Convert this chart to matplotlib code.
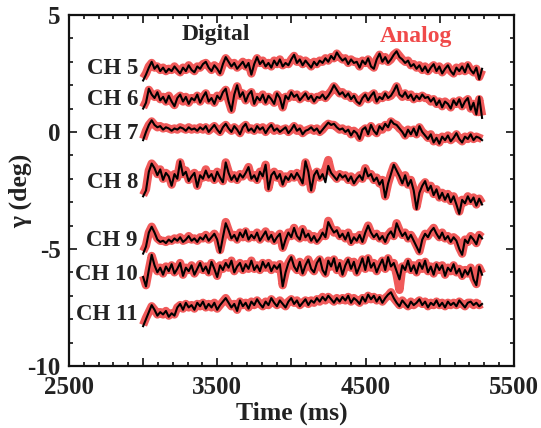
import numpy as np
import matplotlib
matplotlib.use("Agg")
import matplotlib.pyplot as plt
from matplotlib.ticker import MultipleLocator, FixedLocator, FuncFormatter

plt.rcParams['font.family'] = ['Liberation Serif', 'DejaVu Serif']
plt.rcParams['font.weight'] = 'bold'
plt.rcParams['axes.unicode_minus'] = False

t_start, t_end = 3000, 5285

channels = ["CH 5", "CH 6", "CH 7", "CH 8", "CH 9", "CH 10", "CH 11"]
label_y = [2.73, 1.4, -0.05, -2.17, -4.62, -6.1, -7.82]

dig_ch5 = [2.2, 2.45, 2.75, 3.0, 2.7, 2.85, 2.6, 2.75, 2.55, 2.7, 2.6, 2.8, 2.65, 2.5, 2.75, 2.6, 2.85, 2.65, 2.55, 2.8,
           2.7, 2.9, 3.0, 2.75, 2.6, 2.85, 2.7, 2.5, 2.9, 3.2, 3.0, 2.8, 2.95, 2.7, 2.85, 3.0, 2.75, 2.95, 2.45, 2.9,
           3.2, 2.9, 3.05, 2.8, 2.95, 2.75, 3.05, 2.85, 3.1, 2.8, 2.95, 2.85, 3.1, 3.3, 2.95, 3.1, 2.85, 3.05, 2.9, 2.75,
           3.0, 2.85, 3.05, 2.95, 3.15, 3.0, 3.25, 3.1, 3.4, 3.2, 3.05, 3.15, 2.9, 3.1, 2.95, 3.0, 2.75, 3.05, 2.9, 3.15,
           2.8, 2.7, 3.1, 3.35, 3.0, 3.2, 2.95, 3.1, 3.3, 3.45, 3.2, 3.1, 2.95, 3.05, 2.8, 2.9, 2.7, 2.85, 2.6, 2.8,
           2.55, 2.75, 2.9, 2.6, 2.8, 2.5, 2.7, 2.85, 2.6, 2.45, 2.75, 2.6, 2.8, 2.55, 2.9, 2.65, 2.5, 2.75, 2.25, 2.7]
dig_ch6 = [1.0, 1.25, 1.85, 1.6, 1.45, 1.7, 1.35, 1.5, 1.25, 1.55, 1.3, 1.1, 1.45, 1.6, 1.3, 1.5, 1.2, 1.45, 1.35, 1.6,
           1.25, 1.5, 1.7, 1.3, 1.45, 1.2, 1.55, 1.4, 1.7, 1.85, 1.3, 0.9, 1.6, 2.0, 1.5, 1.7, 1.3, 1.6, 1.75, 1.2,
           1.5, 1.35, 1.6, 1.25, 1.55, 1.4, 1.2, 1.65, 1.45, 1.0, 1.55, 1.4, 1.7, 1.5, 1.6, 1.35, 1.5, 1.65, 1.4, 1.55,
           1.3, 1.5, 1.45, 1.6, 1.4, 1.55, 1.75, 2.0, 1.8, 1.6, 1.7, 1.5, 1.65, 1.4, 1.55, 1.3, 1.2, 1.45, 1.6, 1.35,
           1.55, 1.7, 1.3, 1.5, 1.4, 1.65, 1.45, 1.55, 1.75, 2.0, 1.6, 1.5, 1.7, 1.45, 1.6, 1.35, 1.55, 1.4, 1.6, 1.45,
           1.5, 1.3, 1.45, 1.15, 1.35, 1.05, 1.3, 1.2, 1.0, 1.35, 1.15, 1.4, 1.05, 1.3, 1.45, 0.95, 1.25, 0.75, 1.5, 0.6]
dig_ch7 = [-0.35, 0.0, 0.3, 0.5, 0.3, 0.2, 0.25, 0.1, 0.2, 0.15, 0.05, 0.15, 0.1, 0.2, 0.15, 0.05, 0.2, 0.1, 0.15, 0.05,
           0.2, 0.1, 0.25, 0.0, 0.15, 0.3, 0.1, -0.05, 0.2, 0.35, 0.15, 0.0, 0.25, 0.1, -0.1, 0.2, 0.35, 0.05, 0.15, 0.0,
           0.25, 0.1, 0.2, -0.05, 0.15, 0.3, 0.05, 0.15, 0.0, 0.1, 0.2, -0.05, 0.1, 0.3, 0.05, 0.15, -0.1, 0.05, 0.1, 0.2,
           0.05, 0.15, -0.05, 0.1, 0.25, 0.4, 0.3, 0.35, 0.2, 0.1, 0.15, 0.0, 0.1, -0.15, 0.05, -0.05, -0.3, 0.1, 0.2, -0.1,
           0.3, 0.05, -0.1, 0.25, 0.1, 0.35, 0.2, 0.5, 0.35, 0.3, 0.15, 0.0, -0.2, 0.1, -0.1, 0.15, -0.15, 0.25, 0.0, -0.15,
           -0.3, -0.1, -0.45, -0.25, -0.5, -0.2, -0.35, -0.15, -0.4, -0.25, -0.05, -0.3, -0.45, -0.2, -0.3, -0.1, -0.35, -0.2, -0.25, -0.35]
dig_ch8 = [-2.75, -2.5, -1.7, -1.35, -1.55, -1.85, -1.6, -2.05, -1.75, -1.9, -2.3, -1.8, -2.0, -1.25, -1.85, -1.7, -2.1, -1.9, -1.75, -2.35,
           -1.85, -2.0, -1.65, -1.95, -1.8, -2.1, -1.7, -1.95, -2.15, -1.3, -1.75, -2.05, -1.85, -2.1, -1.8, -1.95, -1.75, -1.5, -2.0, -1.85,
           -2.1, -1.7, -1.9, -1.4, -2.45, -1.85, -1.7, -2.0, -1.8, -2.25, -1.9, -2.05, -1.8, -2.0, -1.75, -1.95, -2.2, -1.25, -1.7, -2.5,
           -1.85, -1.65, -2.0, -1.8, -2.15, -1.45, -1.75, -1.9, -2.05, -1.8, -1.95, -1.85, -2.1, -1.9, -2.2, -2.0, -1.85, -2.05, -1.55, -1.9,
           -1.8, -2.1, -1.95, -2.25, -2.05, -2.8, -2.2, -1.8, -1.4, -1.65, -1.9, -2.2, -1.85, -2.3, -2.05, -2.5, -3.3, -2.6, -2.3, -2.1,
           -2.5, -2.3, -2.7, -2.45, -2.85, -2.6, -2.9, -2.65, -3.0, -2.75, -3.1, -3.5, -2.9, -3.05, -2.75, -3.0, -2.8, -3.15, -2.85, -3.1]
dig_ch9 = [-5.2, -4.9, -4.3, -4.05, -4.3, -4.6, -4.7, -4.65, -4.75, -4.6, -4.7, -4.55, -4.65, -4.5, -4.7, -4.6, -4.45, -4.65, -4.55, -4.7,
           -4.5, -4.6, -4.4, -4.65, -4.5, -4.35, -4.6, -5.15, -4.5, -3.9, -4.2, -4.55, -4.4, -4.65, -4.3, -4.5, -4.2, -4.6, -4.4, -4.55,
           -4.3, -4.65, -4.45, -4.25, -4.6, -4.4, -4.7, -4.5, -4.35, -5.0, -4.6, -4.3, -4.5, -4.1, -4.45, -4.6, -4.15, -4.5, -4.35, -4.65,
           -4.45, -4.7, -4.55, -4.3, -4.5, -3.85, -4.1, -4.3, -4.2, -4.5, -4.35, -4.6, -4.3, -4.75, -4.5, -4.65, -4.4, -4.7, -4.3, -4.0,
           -4.3, -4.5, -4.35, -4.6, -4.45, -4.7, -4.4, -4.25, -4.5, -3.9, -4.2, -4.45, -4.3, -4.6, -4.4, -4.65, -4.9, -5.15, -4.6, -4.35,
           -4.5, -4.25, -4.1, -4.35, -4.55, -4.3, -4.6, -4.45, -4.7, -4.5, -4.65, -5.0, -5.25, -4.6, -4.75, -4.45, -4.6, -4.8, -4.4, -4.55]
dig_ch10 = [-6.2, -6.6, -5.9, -5.25, -5.7, -6.0, -5.8, -6.1, -5.75, -5.95, -5.65, -6.05, -5.85, -5.6, -6.15, -5.8, -5.95, -5.7, -6.1, -5.85,
            -5.6, -5.95, -5.75, -6.05, -5.55, -5.85, -6.2, -5.7, -5.9, -5.6, -5.8, -5.5, -6.0, -5.75, -5.6, -5.95, -5.65, -5.85, -5.5, -5.9,
            -5.7, -5.95, -5.55, -5.8, -5.6, -5.95, -5.7, -5.85, -5.65, -6.6, -6.0, -5.6, -5.35, -5.75, -5.95, -5.55, -6.05, -5.7, -5.45, -5.85,
            -6.0, -5.6, -5.4, -5.9, -6.1, -5.5, -5.75, -5.4, -5.95, -5.6, -6.1, -5.7, -5.45, -5.85, -5.55, -6.05, -5.75, -5.4, -5.9, -5.35,
            -5.8, -5.6, -6.0, -5.7, -5.45, -5.9, -5.35, -5.75, -5.6, -5.95, -6.3, -5.7, -5.9, -5.5, -5.95, -5.7, -6.05, -5.6, -5.85, -5.5,
            -6.0, -5.75, -6.1, -5.65, -5.9, -5.7, -6.15, -5.8, -5.95, -5.65, -6.05, -5.85, -6.2, -5.9, -6.1, -5.8, -6.3, -6.55, -5.75, -6.1]
dig_ch11 = [-8.3, -8.0, -7.7, -7.4, -7.6, -7.85, -7.7, -7.8, -7.65, -7.9, -7.75, -7.85, -7.5, -7.35, -7.6, -7.3, -7.5, -7.4, -7.6, -7.3,
            -7.45, -7.25, -7.55, -7.35, -7.5, -7.3, -7.6, -7.4, -7.25, -7.1, -7.3, -7.5, -7.35, -7.65, -7.2, -7.45, -7.3, -7.55, -7.25, -7.4,
            -7.15, -7.35, -7.5, -7.25, -7.4, -7.1, -7.3, -7.45, -7.2, -7.35, -7.5, -7.25, -7.1, -7.35, -7.2, -7.45, -7.3, -7.15, -7.4, -7.2,
            -7.3, -7.1, -7.25, -7.05, -7.2, -7.0, -7.15, -7.3, -7.1, -7.25, -7.05, -7.2, -7.0, -7.3, -7.1, -7.2, -7.35, -7.05, -7.25, -6.95,
            -7.15, -7.0, -7.25, -7.05, -7.3, -7.1, -6.95, -6.85, -7.1, -7.3, -7.45, -7.2, -7.35, -7.5, -7.25, -7.4, -7.3, -7.15, -7.4, -7.25,
            -7.5, -7.3, -7.4, -7.2, -7.45, -7.3, -7.5, -7.25, -7.4, -7.3, -7.45, -7.2, -7.35, -7.5, -7.3, -7.25, -7.4, -7.3, -7.45, -7.35]

ana_ch5 = [2.3, 2.5, 2.8, 2.95, 2.75, 2.8, 2.65, 2.75, 2.6, 2.7, 2.65, 2.8, 2.65, 2.55, 2.75, 2.65, 2.85, 2.7, 2.6, 2.8,
           2.75, 2.9, 2.95, 2.8, 2.65, 2.85, 2.75, 2.55, 2.9, 3.15, 3.0, 2.85, 2.95, 2.75, 2.85, 3.0, 2.8, 2.95, 2.5, 2.9,
           3.15, 2.95, 3.05, 2.85, 2.95, 2.8, 3.05, 2.9, 3.1, 2.85, 2.95, 2.9, 3.1, 3.25, 3.0, 3.1, 2.9, 3.05, 2.95, 2.8,
           3.0, 2.9, 3.05, 3.0, 3.15, 3.05, 3.2, 3.15, 3.35, 3.2, 3.1, 3.15, 2.95, 3.1, 3.0, 3.0, 2.8, 3.05, 2.95, 3.1,
           2.85, 2.75, 3.1, 3.3, 3.05, 3.2, 3.0, 3.1, 3.3, 3.4, 3.25, 3.1, 3.0, 3.05, 2.85, 2.9, 2.75, 2.85, 2.65, 2.8,
           2.6, 2.75, 2.85, 2.65, 2.8, 2.55, 2.7, 2.8, 2.6, 2.5, 2.75, 2.6, 2.8, 2.6, 2.85, 2.65, 2.55, 2.7, 2.35, 2.65]
ana_ch6 = [1.05, 1.3, 1.8, 1.6, 1.5, 1.65, 1.4, 1.5, 1.3, 1.55, 1.3, 1.15, 1.45, 1.55, 1.3, 1.5, 1.25, 1.45, 1.4, 1.55,
           1.3, 1.5, 1.65, 1.35, 1.45, 1.25, 1.55, 1.45, 1.65, 1.8, 1.35, 0.95, 1.6, 1.95, 1.55, 1.65, 1.35, 1.6, 1.7, 1.25,
           1.5, 1.4, 1.6, 1.3, 1.5, 1.4, 1.25, 1.6, 1.45, 1.05, 1.5, 1.45, 1.65, 1.5, 1.6, 1.4, 1.5, 1.6, 1.45, 1.5,
           1.35, 1.5, 1.5, 1.6, 1.45, 1.6, 1.75, 1.95, 1.8, 1.65, 1.7, 1.55, 1.6, 1.45, 1.5, 1.35, 1.25, 1.45, 1.55, 1.4,
           1.55, 1.65, 1.35, 1.5, 1.45, 1.6, 1.5, 1.55, 1.7, 1.95, 1.65, 1.5, 1.65, 1.5, 1.6, 1.4, 1.5, 1.45, 1.55, 1.45,
           1.45, 1.3, 1.4, 1.2, 1.3, 1.1, 1.3, 1.2, 1.05, 1.3, 1.2, 1.35, 1.1, 1.3, 1.4, 1.0, 1.2, 0.85, 1.4, 0.7]
ana_ch7 = [-0.3, 0.05, 0.3, 0.45, 0.3, 0.2, 0.25, 0.15, 0.2, 0.15, 0.1, 0.15, 0.1, 0.2, 0.15, 0.1, 0.2, 0.1, 0.15, 0.1,
           0.2, 0.1, 0.2, 0.05, 0.15, 0.25, 0.1, 0.0, 0.2, 0.3, 0.15, 0.05, 0.2, 0.1, -0.05, 0.2, 0.3, 0.1, 0.15, 0.05,
           0.2, 0.1, 0.2, 0.0, 0.15, 0.25, 0.05, 0.15, 0.05, 0.1, 0.15, 0.0, 0.1, 0.25, 0.05, 0.15, -0.05, 0.05, 0.1, 0.15,
           0.05, 0.15, 0.0, 0.1, 0.25, 0.35, 0.3, 0.3, 0.2, 0.1, 0.15, 0.05, 0.1, -0.1, 0.05, -0.05, -0.25, 0.05, 0.15, -0.05,
           0.25, 0.05, -0.05, 0.2, 0.1, 0.3, 0.2, 0.45, 0.35, 0.3, 0.15, 0.05, -0.15, 0.1, -0.05, 0.1, -0.1, 0.2, 0.0, -0.1,
           -0.25, -0.1, -0.4, -0.25, -0.45, -0.2, -0.3, -0.15, -0.35, -0.25, -0.1, -0.3, -0.4, -0.2, -0.3, -0.15, -0.3, -0.2, -0.25, -0.3]
ana_ch8 = [-2.7, -2.45, -1.65, -1.35, -1.5, -1.8, -1.6, -2.0, -1.75, -1.85, -2.25, -1.8, -1.95, -1.3, -1.8, -1.65, -2.05, -1.85, -1.75, -2.3,
           -1.85, -1.95, -1.6, -1.95, -1.8, -2.05, -1.7, -1.9, -2.1, -1.3, -1.7, -2.0, -1.85, -2.05, -1.8, -1.9, -1.75, -1.5, -1.95, -1.85,
           -2.05, -1.7, -1.85, -1.4, -2.4, -1.85, -1.7, -1.95, -1.8, -2.2, -1.9, -2.0, -1.8, -1.95, -1.75, -1.9, -2.15, -1.3, -1.7, -2.45,
           -1.85, -1.7, -1.95, -1.8, -1.6, -1.2, -1.7, -1.85, -2.0, -1.8, -1.9, -1.85, -2.05, -1.9, -2.15, -2.0, -1.85, -2.0, -1.55, -1.85,
           -1.8, -2.05, -1.95, -2.2, -2.05, -2.75, -2.2, -1.8, -1.45, -1.65, -1.85, -2.15, -1.85, -2.25, -2.05, -2.45, -3.2, -2.6, -2.3, -2.15,
           -2.45, -2.3, -2.65, -2.45, -2.8, -2.6, -2.85, -2.65, -2.95, -2.75, -3.05, -3.4, -2.9, -3.0, -2.75, -2.95, -2.8, -3.1, -2.85, -3.05]
ana_ch9 = [-5.1, -4.85, -4.3, -4.05, -4.3, -4.55, -4.65, -4.65, -4.7, -4.6, -4.65, -4.55, -4.6, -4.5, -4.65, -4.6, -4.45, -4.6, -4.55, -4.65,
           -4.5, -4.55, -4.4, -4.6, -4.5, -4.35, -4.55, -5.05, -4.5, -3.85, -4.2, -4.5, -4.4, -4.6, -4.3, -4.5, -4.25, -4.55, -4.4, -4.5,
           -4.3, -4.6, -4.45, -4.25, -4.55, -4.4, -4.65, -4.5, -4.35, -4.95, -4.6, -4.3, -4.45, -4.1, -4.45, -4.55, -4.15, -4.5, -4.35, -4.6,
           -4.45, -4.65, -4.5, -4.3, -4.45, -3.8, -4.1, -4.3, -4.2, -4.45, -4.35, -4.55, -4.3, -4.7, -4.5, -4.6, -4.4, -4.65, -4.3, -4.0,
           -4.3, -4.45, -4.35, -4.55, -4.45, -4.65, -4.4, -4.25, -4.45, -3.9, -4.2, -4.4, -4.3, -4.55, -4.4, -4.6, -4.85, -5.1, -4.6, -4.35,
           -4.45, -4.25, -4.1, -4.35, -4.5, -4.3, -4.55, -4.45, -4.65, -4.5, -4.6, -4.95, -5.2, -4.6, -4.7, -4.45, -4.55, -4.75, -4.4, -4.5]
ana_ch10 = [-6.15, -6.55, -5.9, -5.3, -5.7, -5.95, -5.8, -6.05, -5.75, -5.9, -5.7, -6.0, -5.85, -5.6, -6.1, -5.8, -5.9, -5.7, -6.05, -5.85,
            -5.65, -5.9, -5.75, -6.0, -5.6, -5.85, -6.15, -5.7, -5.85, -5.6, -5.8, -5.5, -5.95, -5.75, -5.6, -5.9, -5.65, -5.85, -5.5, -5.85,
            -5.7, -5.9, -5.6, -5.8, -5.6, -5.9, -5.7, -5.85, -5.65, -6.55, -6.0, -5.6, -5.4, -5.75, -5.9, -5.55, -6.0, -5.7, -5.45, -5.8,
            -5.95, -5.6, -5.45, -5.85, -6.05, -5.5, -5.75, -5.45, -5.9, -5.6, -6.05, -5.7, -5.5, -5.8, -5.55, -6.0, -5.75, -5.45, -5.85, -5.4,
            -5.8, -5.6, -5.95, -5.7, -5.5, -5.85, -5.4, -5.75, -5.6, -6.1, -6.75, -5.75, -5.85, -5.55, -5.9, -5.7, -6.0, -5.6, -5.85, -5.55,
            -5.95, -5.75, -6.05, -5.7, -5.9, -5.7, -6.1, -5.8, -5.95, -5.7, -6.0, -5.85, -6.15, -5.9, -6.05, -5.8, -6.25, -6.5, -5.8, -6.05]
ana_ch11 = [-8.25, -7.95, -7.7, -7.45, -7.6, -7.8, -7.7, -7.8, -7.65, -7.85, -7.75, -7.8, -7.5, -7.4, -7.55, -7.35, -7.5, -7.4, -7.55, -7.35,
            -7.45, -7.3, -7.5, -7.35, -7.5, -7.3, -7.55, -7.4, -7.25, -7.1, -7.3, -7.45, -7.35, -7.6, -7.25, -7.4, -7.3, -7.5, -7.25, -7.4,
            -7.2, -7.35, -7.45, -7.25, -7.4, -7.15, -7.3, -7.4, -7.2, -7.35, -7.45, -7.25, -7.15, -7.3, -7.2, -7.4, -7.3, -7.2, -7.35, -7.2,
            -7.3, -7.15, -7.25, -7.05, -7.2, -7.05, -7.15, -7.25, -7.1, -7.2, -7.1, -7.2, -7.05, -7.25, -7.1, -7.2, -7.3, -7.1, -7.2, -7.0,
            -7.15, -7.05, -7.2, -7.1, -7.25, -7.1, -7.0, -6.85, -7.1, -7.25, -7.4, -7.2, -7.35, -7.45, -7.25, -7.4, -7.3, -7.2, -7.35, -7.25,
            -7.45, -7.3, -7.4, -7.25, -7.4, -7.3, -7.45, -7.3, -7.4, -7.3, -7.4, -7.25, -7.35, -7.45, -7.3, -7.3, -7.4, -7.3, -7.4, -7.35]

digital = [dig_ch5, dig_ch6, dig_ch7, dig_ch8, dig_ch9, dig_ch10, dig_ch11]
analog = [ana_ch5, ana_ch6, ana_ch7, ana_ch8, ana_ch9, ana_ch10, ana_ch11]

x_ticklabels = [2500, 3500, 4500, 5500]
y_ticklabels = [5, 0, -5, -10]

RED = '#f05a5a'
BLACK = '#000000'

fig = plt.figure(figsize=(5.41, 4.28), dpi=100)
ax = fig.add_axes([0.1275, 0.145, 0.8225, 0.82])

for ana in analog:
    ta = np.linspace(t_start, t_end, len(ana))
    ax.plot(ta, ana, color=RED, lw=6.0, solid_joinstyle='round',
            solid_capstyle='butt', zorder=2)
for dig in digital:
    td = np.linspace(t_start, t_end, len(dig))
    ax.plot(td, dig, color=BLACK, lw=1.5, solid_joinstyle='round', zorder=3)

for name, yy in zip(channels, label_y):
    ax.text(2965, yy, name, ha='right', va='center', fontsize=16.5,
            fontweight='bold', color='#222222')

ax.text(3491, 4.15, "Digital", ha='center', va='center', fontsize=17,
        fontweight='bold', color='#222222')
ax.text(4839, 4.1, "Analog", ha='center', va='center', fontsize=17,
        fontweight='bold', color='#f04a4a')

ax.set_xlim(2500, 5500)
ax.set_ylim(-10, 5)

ax.xaxis.set_major_locator(MultipleLocator(500))
ax.xaxis.set_minor_locator(MultipleLocator(100))
ax.xaxis.set_major_formatter(FuncFormatter(
    lambda v, p: f"{int(round(v))}" if int(round(v)) in x_ticklabels else ""))
ax.yaxis.set_major_locator(FixedLocator(y_ticklabels))
ax.yaxis.set_minor_locator(MultipleLocator(1))
ax.yaxis.set_major_formatter(FuncFormatter(lambda v, p: f"{int(round(v))}"))

ax.tick_params(which='both', direction='in', top=True, right=True, width=1.3, colors='#222222')
ax.tick_params(which='major', length=5.5)
ax.tick_params(which='minor', length=3)
ax.tick_params(axis='x', which='major', pad=7, labelsize=18)
ax.tick_params(axis='y', which='major', pad=6, labelsize=18)
for lab in ax.get_xticklabels() + ax.get_yticklabels():
    lab.set_fontweight('bold')
    lab.set_color('#222222')

for sp in ax.spines.values():
    sp.set_linewidth(1.6)
    sp.set_color('#111111')

ax.set_xlabel("Time (ms)", fontsize=18.5, fontweight='bold', color='#222222', labelpad=2)
ax.set_ylabel("γ (deg)", fontsize=18.5, fontweight='bold', color='#222222')
ax.yaxis.set_label_coords(-0.082, 0.5)

fig.savefig("out.png", dpi=100)
